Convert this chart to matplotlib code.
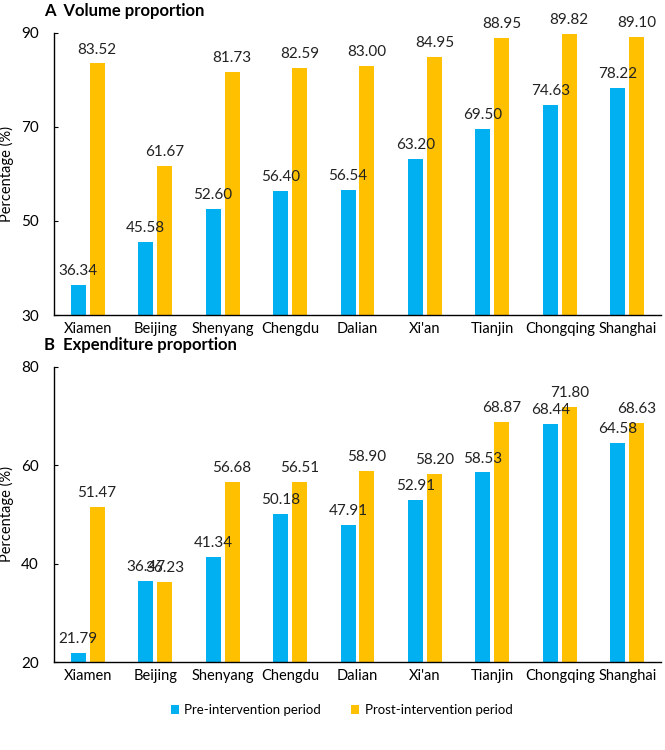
import matplotlib
matplotlib.use("Agg")
import matplotlib.pyplot as plt
import numpy as np

plt.rcParams['font.family'] = ['Lato', 'DejaVu Sans']

cities = ["Xiamen", "Beijing", "Shenyang", "Chengdu", "Dalian", "Xi'an", "Tianjin", "Chongqing", "Shanghai"]
vol_pre = [36.34, 45.58, 52.60, 56.40, 56.54, 63.20, 69.50, 74.63, 78.22]
vol_post = [83.52, 61.67, 81.73, 82.59, 83.00, 84.95, 88.95, 89.82, 89.10]
exp_pre = [21.79, 36.47, 41.34, 50.18, 47.91, 52.91, 58.53, 68.44, 64.58]
exp_post = [51.47, 36.23, 56.68, 56.51, 58.90, 58.20, 68.87, 71.80, 68.63]

blue = "#00B0F0"
orange = "#FFC000"

fig = plt.figure(figsize=(6.65, 7.5), dpi=100)
L, W = 0.0812, 0.9128
ax1 = fig.add_axes([L, 0.58, W, 0.376])
ax2 = fig.add_axes([L, 0.117, W, 0.394])

x = np.arange(len(cities))
w = 0.222
off = 0.14

def draw(ax, pre, post, ylim, yticks, title):
    b1 = ax.bar(x - off, pre, w, color=blue, label="Pre-intervention period")
    b2 = ax.bar(x + off, post, w, color=orange, label="Prost-intervention period")
    for xi, v in zip(x - off, pre):
        ax.annotate(f"{v:.2f}", (xi, v), xytext=(0, 5), textcoords="offset points",
                    ha="center", va="bottom", fontsize=11, color="#222222")
    for xi, v in zip(x + off, post):
        ax.annotate(f"{v:.2f}", (xi, v), xytext=(0, 5), textcoords="offset points",
                    ha="center", va="bottom", fontsize=11, color="#222222")
    ax.set_ylim(*ylim)
    ax.set_yticks(yticks)
    ax.set_xlim(-0.5, len(cities) - 0.5)
    ax.set_xticks(x)
    ax.set_xticklabels(cities, fontsize=10.5)
    ax.tick_params(axis="x", length=0, pad=5)
    ax.tick_params(axis="y", direction="in", length=3, labelsize=11, pad=11)
    for s in ["top", "right"]:
        ax.spines[s].set_visible(False)
    for s in ["left", "bottom"]:
        ax.spines[s].set_color("black")
        ax.spines[s].set_linewidth(1.0)
    ax.set_ylabel("Percentage (%)", fontsize=10.5, labelpad=5)
    ax.annotate(title, xy=(0, 1), xycoords="axes fraction", xytext=(-7, 16),
                textcoords="offset points", fontsize=12, fontweight="bold",
                ha="left", va="center")
    return b1, b2

draw(ax1, vol_pre, vol_post, (30, 90), [30, 50, 70, 90], "A  Volume proportion")
b1, b2 = draw(ax2, exp_pre, exp_post, (20, 80), [20, 40, 60, 80], "B  Expenditure proportion")

fig.legend(handles=[b1, b2], loc="center", bbox_to_anchor=(0.514, 0.053), ncol=2,
           frameon=False, fontsize=9.5, handlelength=0.6, handleheight=0.6,
           columnspacing=2.3, handletextpad=0.4)

fig.savefig("out.png", dpi=100)
